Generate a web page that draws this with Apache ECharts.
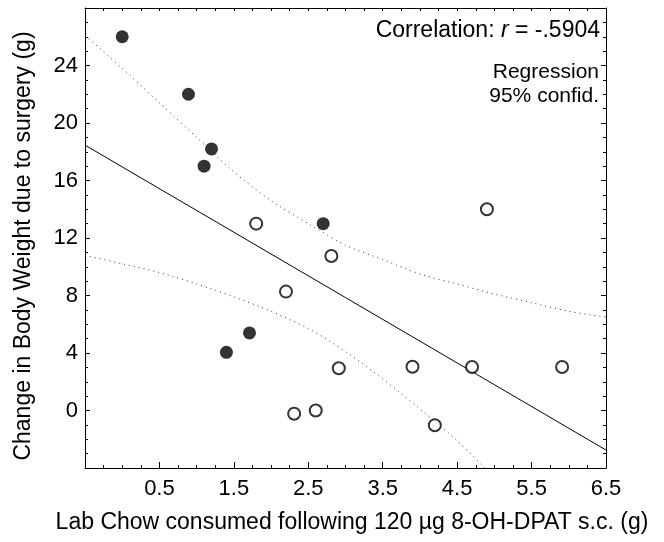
<!DOCTYPE html>
<html><head><meta charset="utf-8">
<script src="https://cdn.jsdelivr.net/npm/echarts@6/dist/echarts.min.js"></script>
<style>html,body{margin:0;padding:0;background:#fff}#c{width:664px;height:542px}</style>
</head><body><div id="c"></div>
<script>
// Filled circles (x, y)
const filledX = [0.00, 0.89, 1.20, 1.10, 2.70, 1.71, 1.40];
const filledY = [26.0, 22.0, 18.2, 17.0, 13.0, 5.4, 4.05];
// Open circles (x, y)
const openX = [1.80, 2.81, 2.20, 2.91, 3.90, 4.70, 5.91, 2.31, 2.60, 4.20, 4.90];
const openY = [13.0, 10.75, 8.27, 2.94, 3.04, 3.03, 3.03, -0.23, 0.0, -1.03, 14.0];
// Regression line end points
const regX = [-0.5, 6.5];
const regY = [18.46, -2.75];
// 95% confidence bands
const upperX = [-0.5, 0.0, 0.5, 1.0, 1.5, 2.0, 2.5, 3.0, 3.5, 4.0, 4.5, 5.0, 5.5, 6.0, 6.5];
const upperY = [26.1, 23.8, 21.4, 19.0, 16.6, 14.6, 13.0, 11.5, 10.5, 9.5, 8.8, 8.1, 7.5, 6.9, 6.5];
const lowerX = [-0.5, 0.0, 0.5, 1.0, 1.5, 2.0, 2.5, 3.0, 3.5, 4.0, 4.5, 4.87];
const lowerY = [10.8, 10.2, 9.6, 8.8, 7.9, 6.9, 5.7, 4.1, 2.2, 0.1, -2.1, -4.0];
// Tick labels
const xTickLabels = ['0.5', '1.5', '2.5', '3.5', '4.5', '5.5', '6.5'];
const yTickLabels = ['0', '4', '8', '12', '16', '20', '24'];

const zip = (a, b) => a.map((v, i) => [v, b[i]]);
const FONT = '"Liberation Sans", Arial, sans-serif';
const chart = echarts.init(document.getElementById('c'), null, {renderer: 'canvas'});

const baseX = {
  type: 'value', min: -0.5, max: 6.5, splitLine: {show: false},
  axisLine: {show: true, onZero: false, lineStyle: {color: '#000', width: 1}}
};
const baseY = {
  type: 'value', min: -4, max: 28, interval: 4, splitLine: {show: false},
  axisLine: {show: true, onZero: false, lineStyle: {color: '#000', width: 1}},
  axisTick: {show: true, inside: true, length: 5, lineStyle: {color: '#000'}},
  minorTick: {show: true, splitNumber: 4, length: 3, lineStyle: {color: '#000'}}
};

chart.setOption({
  animation: false,
  backgroundColor: '#fff',
  grid: {left: 85, right: 58, top: 8, bottom: 74, containLabel: false},
  xAxis: [
    Object.assign({}, baseX, {
      position: 'bottom', interval: 0.25,
      axisTick: {show: true, inside: true, length: 3, lineStyle: {color: '#000'}},
      axisLabel: {show: true, customValues: xTickLabels.map(Number), formatter: v => v.toFixed(1),
        color: '#000', fontFamily: FONT, fontSize: 22, margin: 10}
    }),
    Object.assign({}, baseX, {
      position: 'top', interval: 0.25,
      axisTick: {show: true, inside: true, length: 3, lineStyle: {color: '#000'}},
      axisLabel: {show: false}
    }),
    Object.assign({}, baseX, {
      position: 'bottom',
      axisLine: {show: false, onZero: false},
      axisTick: {show: true, inside: true, length: 6, customValues: xTickLabels.map(Number), lineStyle: {color: '#000'}},
      axisLabel: {show: false}
    })
  ],
  yAxis: [
    Object.assign({}, baseY, {
      position: 'left',
      axisLabel: {show: true, customValues: yTickLabels.map(Number), color: '#000', fontFamily: FONT, fontSize: 22, margin: 7}
    }),
    Object.assign({}, baseY, {position: 'right', axisLabel: {show: false}})
  ],
  graphic: [
    {type: 'text', x: 352, y: 523, style: {
      text: 'Lab Chow consumed following 120 \u00b5g 8-OH-DPAT s.c. (g)',
      fontFamily: FONT, fontSize: 23, fill: '#000', align: 'center', verticalAlign: 'middle'}},
    {type: 'text', x: 24, y: 246, rotation: Math.PI / 2, style: {
      text: 'Change in Body Weight due to surgery (g)',
      fontFamily: FONT, fontSize: 23, fill: '#000', align: 'center', verticalAlign: 'middle'}},
    {type: 'text', right: 64, top: 19, style: {
      text: '{a|Correlation: }{i|r}{a| = -.5904}',
      rich: {a: {fontFamily: FONT, fontSize: 23, fill: '#000'},
             i: {fontFamily: FONT, fontSize: 23, fontStyle: 'italic', fill: '#000'}}}},
    {type: 'text', right: 65, top: 62, style: {text: 'Regression', fontFamily: FONT, fontSize: 21, fill: '#000', align: 'right'}},
    {type: 'text', right: 65, top: 86, style: {text: '95% confid.', fontFamily: FONT, fontSize: 21, fill: '#000', align: 'right'}}
  ],
  series: [
    {type: 'line', data: zip(regX, regY), showSymbol: false, symbol: 'none',
     lineStyle: {color: '#000', width: 1}, z: 1},
    {type: 'line', data: zip(upperX, upperY), showSymbol: false, symbol: 'none', smooth: 0.3,
     lineStyle: {color: '#333', width: 1, type: [1, 4]}, z: 1},
    {type: 'line', data: zip(lowerX, lowerY), showSymbol: false, symbol: 'none', smooth: 0.3,
     lineStyle: {color: '#333', width: 1, type: [1, 4]}, z: 1},
    {type: 'scatter', data: zip(filledX, filledY), symbol: 'circle', symbolSize: 13,
     itemStyle: {color: '#000'}, z: 3},
    {type: 'scatter', data: zip(openX, openY), symbol: 'circle', symbolSize: 12,
     itemStyle: {color: '#fff', borderColor: '#000', borderWidth: 2}, z: 3}
  ]
});
</script></body></html>
